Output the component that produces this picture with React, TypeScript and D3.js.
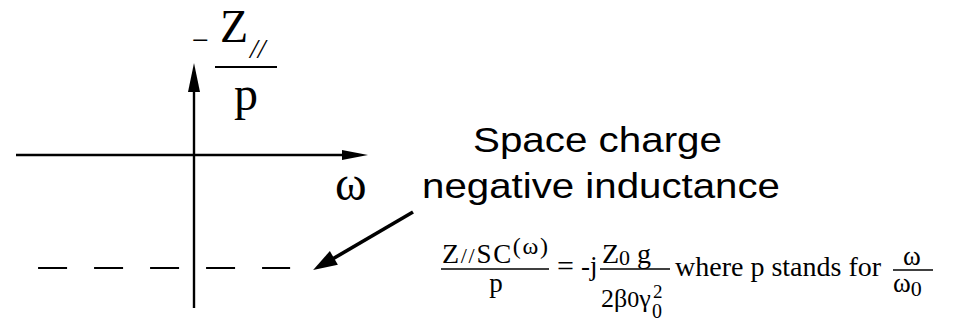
import { scaleLinear, line } from 'd3';

// Schematic: longitudinal space-charge impedance vs frequency
const omegaExtent = [-1, 1];          // horizontal axis span
const zExtent = [-1.354, 0.814];      // vertical axis span
const spaceChargeOmega = [-0.876, 0.54];
const spaceChargeZ = [-1, -1];        // constant negative (inductive) value
const annotation = ['Space charge', 'negative inductance'];

const W = 955;
const H = 324;
const serif = "'Liberation Serif', 'Times New Roman', serif";
const sans = "'Liberation Sans', Arial, sans-serif";

// arrow head polygon pointing from (x0,y0) to tip (x1,y1)
function head(x0: number, y0: number, x1: number, y1: number, len: number, hw: number) {
    const dx = x1 - x0, dy = y1 - y0;
    const d = Math.hypot(dx, dy);
    const ux = dx / d, uy = dy / d;
    const bx = x1 - ux * len, by = y1 - uy * len;
    return `${x1},${y1} ${bx - uy * hw},${by + ux * hw} ${bx + uy * hw},${by - ux * hw}`;
}

function App() {
    const x = scaleLinear().domain(omegaExtent).range([16, 372]);
    const y = scaleLinear().domain([-1, 1]).range([268, 42]);

    const x0 = x(0), y0 = y(0);
    const xEnd = x(omegaExtent[1]) - 4;
    const yTop = y(zExtent[1]);

    const dashPts = spaceChargeOmega.map((w, i) => [x(w), y(spaceChargeZ[i])] as [number, number]);
    const dashPath = line()(dashPts) || '';

    // annotation arrow ends just past the dashed line
    const tipX = dashPts[1][0] + 23, tipY = dashPts[1][1] + 2;
    const startX = 413, startY = 212;

    return (
        <svg width={W} height={H} style={{ position: 'absolute', left: 0, top: 0, background: '#fff' }}>
            {/* horizontal axis */}
            <line x1={x(omegaExtent[0])} y1={y0} x2={xEnd - 18} y2={y0} stroke="#000" strokeWidth={2.6} />
            <polygon points={head(x0, y0, xEnd, y0, 26, 5)} fill="#000" />
            {/* vertical axis */}
            <line x1={x0} y1={y(zExtent[0])} x2={x0} y2={yTop + 20} stroke="#000" strokeWidth={2.4} />
            <polygon points={head(x0, y0, x0, yTop, 29, 6)} fill="#000" />

            {/* space charge impedance level */}
            <path d={dashPath} stroke="#000" strokeWidth={2.2} strokeDasharray="29 27" fill="none" />

            {/* y label: - Z// / p */}
            <text x={192} y={50} fontFamily={serif} fontSize={30}>−</text>
            <text x={220} y={42} fontFamily={serif} fontSize={46}>Z</text>
            <text x={250} y={58} fontFamily={serif} fontSize={28} fontStyle="italic">//</text>
            <line x1={215} y1={67} x2={277} y2={67} stroke="#000" strokeWidth={2} />
            <text x={246} y={110} fontFamily={serif} fontSize={48} textAnchor="middle">p</text>

            {/* x label */}
            <text x={335} y={200} fontFamily={serif} fontSize={48}>ω</text>

            {/* annotation */}
            <text x={473} y={152} fontFamily={sans} fontSize={35} textLength={249} lengthAdjust="spacingAndGlyphs">{annotation[0]}</text>
            <text x={422} y={198} fontFamily={sans} fontSize={35} textLength={358} lengthAdjust="spacingAndGlyphs">{annotation[1]}</text>
            <line x1={startX} y1={startY} x2={tipX + 16} y2={tipY - 9} stroke="#000" strokeWidth={3.6} />
            <polygon points={head(startX, startY, tipX, tipY, 24, 8)} fill="#000" />

            {/* formula */}
            <g fontFamily={serif} fill="#000">
                <text x={442} y={263} textLength={106} lengthAdjust="spacing">
                    <tspan fontSize={28}>Z</tspan>
                    <tspan fontSize={22}>//</tspan>
                    <tspan fontSize={27}>SC</tspan>
                    <tspan fontSize={24} dy={-9}>(ω)</tspan>
                </text>
                <line x1={441} y1={269} x2={549} y2={269} stroke="#000" strokeWidth={1.3} />
                <text x={496} y={292} fontSize={27} textAnchor="middle">p</text>

                <text x={557} y={276} fontSize={30}>=</text>
                <text x={581} y={275} fontSize={27}>-j</text>

                <text x={602} y={263}>
                    <tspan fontSize={28}>Z</tspan>
                    <tspan fontSize={22} dy={2}>0</tspan>
                    <tspan fontSize={28} dy={-2}> g</tspan>
                </text>
                <line x1={600} y1={269} x2={670} y2={269} stroke="#000" strokeWidth={1.3} />
                <text x={601} y={307}>
                    <tspan fontSize={26}>2β</tspan>
                    <tspan fontSize={24}>0</tspan>
                    <tspan fontSize={26}>γ</tspan>
                </text>
                <text x={653} y={298} fontSize={19}>2</text>
                <text x={652} y={318} fontSize={20}>0</text>

                <text x={675} y={276} fontSize={28}>where p stands for</text>

                <text x={912} y={265} fontSize={27} textAnchor="middle">ω</text>
                <line x1={893} y1={270} x2={933} y2={270} stroke="#000" strokeWidth={1.3} />
                <text x={893} y={292}>
                    <tspan fontSize={27}>ω</tspan>
                    <tspan fontSize={22} dy={4}>0</tspan>
                </text>
            </g>
        </svg>
    );
}

export default App;
